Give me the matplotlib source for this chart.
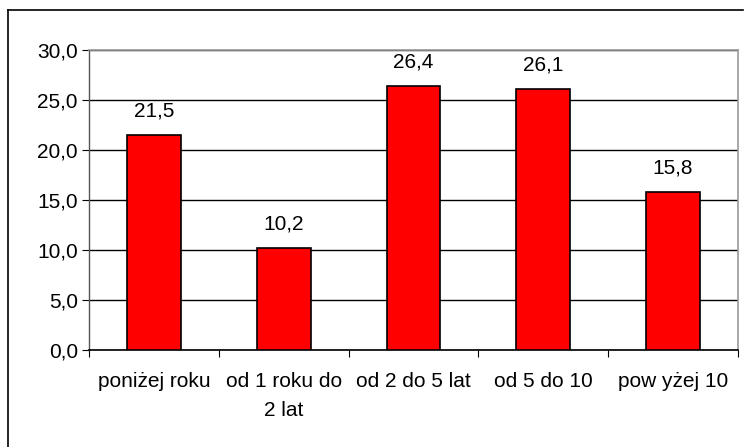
import matplotlib.pyplot as plt
from matplotlib.lines import Line2D

categories = ["poniżej roku", "od 1 roku do\n2 lat", "od 2 do 5 lat", "od 5 do 10", "pow yżej 10"]
values = [21.5, 10.2, 26.4, 26.1, 15.8]
labels = ["21,5", "10,2", "26,4", "26,1", "15,8"]
yticks = [0, 5, 10, 15, 20, 25, 30]

plt.rcParams['font.family'] = ['Liberation Sans', 'DejaVu Sans']
fs = 15

W, H = 744, 447
fig = plt.figure(figsize=(W / 100, H / 100), dpi=100)
ax = fig.add_axes([89 / W, 1 - 350 / H, (738 - 89) / W, 300 / H])

x = list(range(len(categories)))
ax.bar(x, values, width=0.415, color="#ff0000", edgecolor="black", linewidth=1.2, zorder=3)

for xi, v, lab in zip(x, values, labels):
    ax.annotate(lab, (xi, v), xytext=(0, 13), textcoords="offset points",
                ha="center", va="baseline", fontsize=fs)

ax.set_xlim(-0.5, len(categories) - 0.5)
ax.set_ylim(0, 30)
ax.set_yticks(yticks)
ax.set_yticklabels([f"{t:.1f}".replace(".", ",") for t in yticks], fontsize=fs)
ax.yaxis.grid(True, color="black", linewidth=1, zorder=0)

# category labels between boundary ticks
ax.set_xticks([i - 0.5 for i in range(len(categories) + 1)])
ax.set_xticklabels([])
ax.set_xticks(x, minor=True)
ax.set_xticklabels(categories, minor=True, fontsize=fs, linespacing=1.65, va="top")
ax.tick_params(axis="x", which="minor", length=0, pad=16)
ax.tick_params(axis="x", which="major", length=5, direction="out", color="black")
ax.tick_params(axis="y", length=5, direction="out", color="black", pad=3)

for s in ["top", "right"]:
    ax.spines[s].set_color("#999999")
    ax.spines[s].set_linewidth(1.2)
ax.spines["left"].set_color("#555555")
ax.spines["bottom"].set_color("black")
ax.spines["left"].set_linewidth(1)
ax.spines["bottom"].set_linewidth(1.2)

# outer chart frame
fx0, fx1 = 8 / W, 743 / W
fy1 = 1 - 10 / H
fig.add_artist(Line2D([fx0, fx0], [0, fy1], color="black", lw=1.2, transform=fig.transFigure))
fig.add_artist(Line2D([fx0, fx1], [fy1, fy1], color="black", lw=1.2, transform=fig.transFigure))

fig.savefig("out.png", dpi=100)
